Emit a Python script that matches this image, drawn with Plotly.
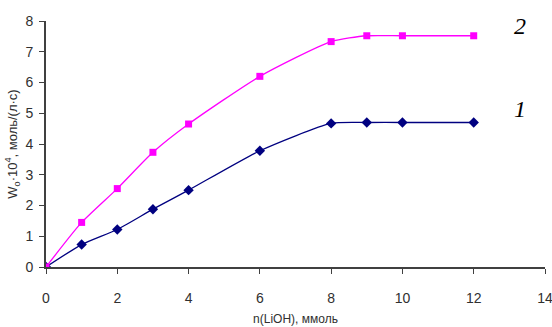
import plotly.graph_objects as go

x_vals = [0, 1, 2, 3, 4, 6, 8, 9, 10, 12]
series1 = [0, 0.73, 1.22, 1.88, 2.5, 3.78, 4.67, 4.7, 4.7, 4.7]
series2 = [0, 1.45, 2.55, 3.73, 4.65, 6.2, 7.33, 7.52, 7.52, 7.52]
x_ticks = [0, 2, 4, 6, 8, 10, 12, 14]
y_ticks = [0, 1, 2, 3, 4, 5, 6, 7, 8]

fig = go.Figure()
fig.add_trace(go.Scatter(
    x=x_vals, y=series1, mode="lines+markers",
    line=dict(color="#000080", width=1.3, shape="spline", smoothing=0.6),
    marker=dict(symbol="diamond", size=8, color="#000080"),
))
fig.add_trace(go.Scatter(
    x=x_vals, y=series2, mode="lines+markers",
    line=dict(color="#FF00FF", width=1.3, shape="spline", smoothing=0.6),
    marker=dict(symbol="square", size=7, color="#FF00FF"),
))

fig.add_annotation(x=13.3, y=7.85, text="<i>2</i>", showarrow=False,
                   font=dict(family="Liberation Serif", size=24, color="black"))
fig.add_annotation(x=13.3, y=5.15, text="<i>1</i>", showarrow=False,
                   font=dict(family="Liberation Serif", size=24, color="black"))

axis_common = dict(showgrid=False, zeroline=False, showline=True, automargin=False,
                   linecolor="#404040", linewidth=2, ticks="outside",
                   tickcolor="#404040", ticklen=5, tickwidth=1,
                   ticklabeloverflow="allow",
                   tickfont=dict(family="Liberation Sans Narrow, Liberation Sans", size=14, color="#303030"))

fig.update_xaxes(range=[0, 14], tickvals=x_ticks, ticklabelstandoff=12,
                 title=dict(text="n(LiOH), ммоль", standoff=10,
                            font=dict(family="Liberation Sans", size=12, color="#303030")),
                 **axis_common)
fig.update_yaxes(range=[0, 8], tickvals=y_ticks, ticklabelstandoff=3,
                 title=dict(text="W<sub>o</sub>·10<sup>4</sup>, моль/(л·с)", standoff=5,
                            font=dict(family="Liberation Sans", size=13, color="#303030")),
                 **axis_common)

fig.update_layout(
    width=552, height=327,
    margin=dict(l=46, r=7, t=21, b=60),
    paper_bgcolor="white", plot_bgcolor="white",
    showlegend=False,
)
fig.write_html(
    "out.html",
    config={"displayModeBar": False},
    post_script="document.body.style.margin='0';document.documentElement.style.overflow='hidden';",
)
